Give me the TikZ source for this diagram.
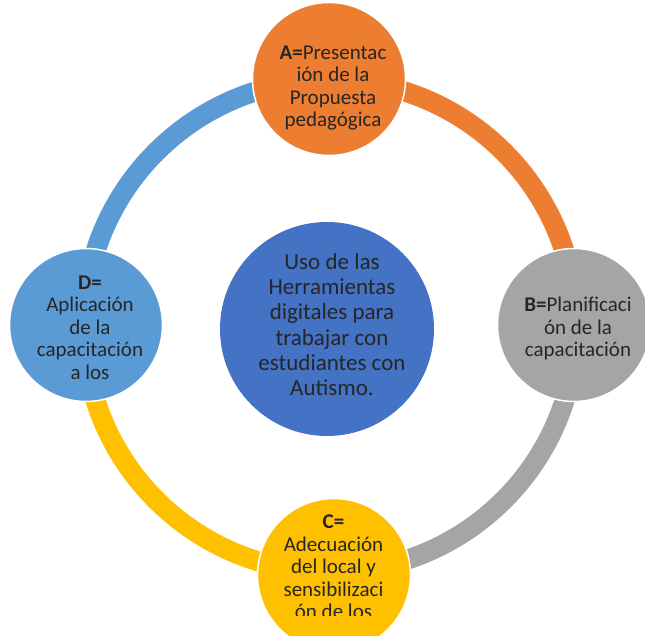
\documentclass[tikz,border=0pt]{standalone}
\usepackage{fontspec}
\setmainfont{Carlito}
\definecolor{cOr}{HTML}{ED7D31}
\definecolor{cGr}{HTML}{A5A5A5}
\definecolor{cYe}{HTML}{FFC000}
\definecolor{cLb}{HTML}{5B9BD5}
\definecolor{cDb}{HTML}{4472C4}
\definecolor{cTx}{HTML}{262626}
\tikzset{
  ringarc/.style={line width=20pt},
  outercirc/.style={circle, minimum size=153pt, inner sep=0pt, draw=white, line width=1.5pt},
  outertext/.style={align=center, text=cTx, font=\fontsize{21}{22.5}\selectfont, inner sep=0pt},
  centertext/.style={align=center, text=cTx, font=\fontsize{23}{25.3}\selectfont, inner sep=0pt}
}
\begin{document}
\begin{tikzpicture}[x=1pt,y=1pt]
\useasboundingbox (0,0) rectangle (645,636);
\coordinate (O) at (330,310);
% ring arcs
\draw[ringarc, cOr] ([shift={(90:246)}]O) arc[start angle=90, end angle=0, radius=246];
\draw[ringarc, cGr] ([shift={(0:246)}]O) arc[start angle=0, end angle=-90, radius=246];
\draw[ringarc, cYe] ([shift={(-90:246)}]O) arc[start angle=-90, end angle=-180, radius=246];
\draw[ringarc, cLb] ([shift={(180:246)}]O) arc[start angle=180, end angle=90, radius=246];
% circles
\node[outercirc, fill=cOr] (a) at (329,557) {};
\node[outercirc, fill=cGr] (b) at (574,311) {};
\node[outercirc, fill=cYe] (c) at (334,61) {};
\node[outercirc, fill=cLb] (d) at (86,311) {};
\node[circle, minimum size=214pt, inner sep=0pt, fill=cDb] (m) at (327,307) {};
% texts
\node[outertext] (ta) at (333,548) {\textbf{A=}Presentac\\ión de la\\Propuesta\\pedagógica};
\node[outertext] (tb) at (578,307.5) {\textbf{B=}Planificaci\\ón de la\\capacitación};
\begin{scope}
\clip (200,20) rectangle (470,200);
\node[outertext] (tc) at (333.5,69) {\textbf{C=}\\Adecuación\\del local y\\sensibilizaci\\ón de los};
\end{scope}
\node[outertext] (td) at (90,308.5) {\textbf{D=}\\Aplicación\\de la\\capacitación\\a los};
\node[centertext] (tm) at (332,311.5) {Uso de las\\Herramientas\\digitales para\\trabajar con\\estudiantes con\\Autismo.};
\end{tikzpicture}
\end{document}
